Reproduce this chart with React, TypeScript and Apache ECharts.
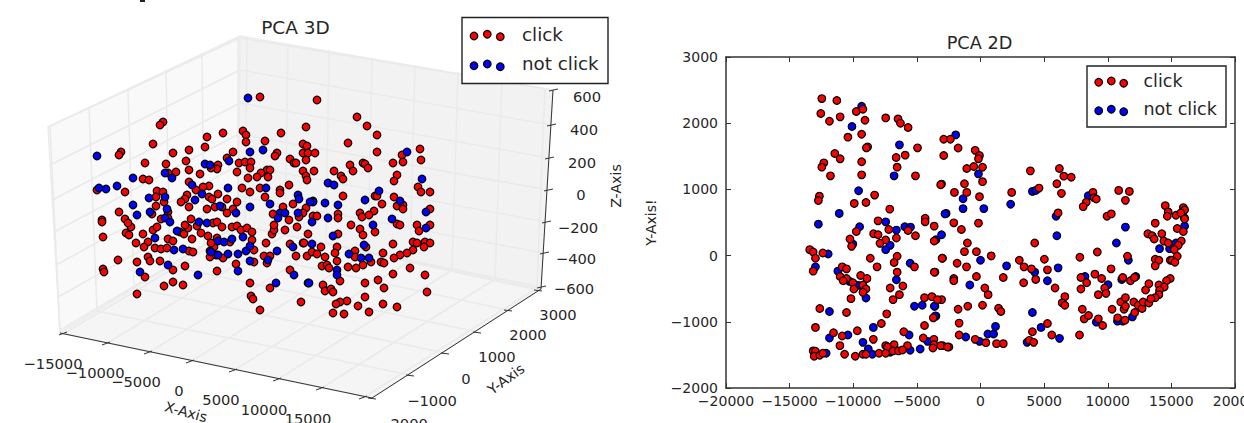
import React, { useEffect, useRef } from "react";
import * as echarts from "echarts";

type P = number[];
const FONT = '"DejaVu Sans"';
const INK = "#262626";

/* ---------- PCA 3D: screen projection of the points ---------- */
const clickProjected: P[] = [
[260,97],[163,122],[160,125],[223,133],[207,137],[243,131],[246,135],[281,133],[306,127],[265,141],[246,142],[153,144],[205,147],[303,144],[307,146],[121,152],[119,155],[189,150],[173,153],[233,152],[277,153],[275,156],[303,153],[308,153],[315,153],[290,159],[227,158],[186,161],[306,160],[145,163],[166,164],[239,163],[245,162],[251,162],[250,168],[294,163],[296,163],[218,165],[217,169],[211,168],[314,171],[189,170],[303,171],[237,172],[168,173],[176,172],[200,174],[267,170],[270,170],[261,173],[257,177],[268,177],[248,178],[306,176],[307,180],[143,179],[149,180],[189,182],[209,186],[203,187],[289,185],[242,188],[260,188],[250,192],[125,192],[97,190],[280,190],[280,193],[157,191],[163,192],[156,197],[196,190],[187,195],[209,197],[212,199],[218,194],[164,202],[185,199],[181,202],[265,197],[227,199],[237,202],[293,204],[156,206],[189,207],[207,209],[215,207],[222,207],[233,209],[283,207],[306,208],[119,212],[168,212],[152,214],[227,213],[273,214],[303,213],[299,217],[313,216],[125,219],[102,220],
[102,222],[131,227],[128,223],[103,237],[126,233],[129,235],[143,234],[153,230],[157,227],[161,219],[168,218],[148,242],[136,243],[144,247],[155,248],[161,249],[167,248],[168,239],[173,241],[180,232],[184,234],[188,228],[191,219],[185,225],[197,226],[192,239],[201,233],[208,236],[213,223],[217,222],[222,227],[232,227],[237,226],[241,230],[247,228],[252,232],[252,240],[217,238],[230,242],[214,247],[211,243],[210,251],[189,251],[193,252],[210,257],[216,255],[223,258],[254,250],[266,243],[148,257],[150,261],[137,262],[118,260],[160,261],[185,266],[173,270],[236,264],[217,271],[254,262],[264,256],[270,256],[267,263],[103,269],[104,272],[145,277],[173,282],[164,286],[183,285],[137,294],[250,283],[270,288],[251,296],[253,299],[260,310],[301,302],[290,270],[308,234],[303,243],[290,244],[296,256],[307,256],[312,252],[317,254],[272,234],[274,230],[285,230],[274,225],[289,220],[297,227],
[317,100],[357,117],[367,126],[377,135],[348,143],[377,152],[420,149],[402,155],[421,160],[393,163],[403,162],[350,165],[363,163],[365,164],[368,168],[353,171],[334,171],[341,176],[343,179],[397,175],[394,181],[418,187],[421,192],[430,192],[343,196],[375,196],[377,196],[394,197],[382,204],[397,206],[403,205],[403,209],[430,209],[374,211],[360,213],[369,215],[338,214],[317,216],[362,217],[338,218],
[351,225],[397,224],[400,225],[417,225],[360,229],[375,232],[419,231],[430,225],[363,235],[338,234],[304,243],[321,247],[337,247],[366,247],[393,244],[413,242],[417,243],[425,242],[430,243],[424,247],[413,250],[407,253],[400,255],[383,253],[394,258],[335,253],[325,257],[337,261],[355,251],[355,257],[363,265],[371,262],[381,262],[384,263],[322,266],[327,265],[329,268],[348,267],[356,268],[410,268],[393,274],[425,275],[340,281],[365,283],[378,280],[384,288],[323,285],[325,291],[331,289],[333,292],[427,292],[365,297],[347,301],[340,302],[336,304],[358,306],[383,304],[397,307],[333,313],[344,314],[369,312]
];
const notClickProjected: P[] = [
[248,98],[97,156],[263,150],[250,152],[229,161],[205,164],[210,165],[133,178],[172,178],[165,173],[117,186],[99,188],[106,189],[228,188],[266,188],[192,185],[202,194],[149,198],[165,197],[195,200],[298,195],[299,199],[313,201],[133,205],[270,204],[220,206],[250,207],[137,215],[150,212],[167,209],[280,213],[285,213],[298,213],[236,213],[165,218],[278,218],
[170,222],[177,231],[155,238],[174,250],[183,249],[168,265],[140,272],[198,275],[199,222],[207,223],[218,241],[224,242],[232,239],[243,237],[211,252],[218,255],[228,254],[238,254],[246,251],[250,246],[250,261],[268,260],[277,251],[238,271],[312,222],[293,247],[312,244],[294,275],[276,283],[308,283],
[407,152],[422,179],[328,183],[334,185],[379,191],[365,200],[313,202],[310,202],[325,203],[338,205],[400,201],[426,212],[328,218],[392,219],
[373,225],[333,236],[364,245],[426,228],[349,254],[361,258],[369,258],[337,270],[337,275],[309,283]
];

/* ---------- PCA 2D ---------- */
const click2D: P[] = [
[-12470,2372],[-11290,2342],[-12550,2146],[-11870,2030],[-11030,2096],[-9760,2176],[-9240,2211],[-9080,2045],[-7450,2080],[-6480,2065],[-6290,2000],[-5690,1935],[-10420,1789],[-9340,1834],[-8870,1643],[-8970,1628],[-4950,1628],[-11450,1542],[-11030,1462],[-9340,1417],[-12310,1401],[-12470,1336],[-6630,1482],[-5920,1517],[-6550,1336],[-11790,1205],[-9340,1220],[-5110,1205],[-3060,1080],[-12660,898],[-12740,833],[-9920,788],[-9000,803],[-8320,914],[-7130,702],[-8050,525],[-4350,565],[-4350,510],
[-7210,395],[-5690,380],[-9760,365],[-5110,300],[-3640,445],[-3640,220],[-10260,250],[-8400,330],[-8050,315],[-6610,265],[-7450,235],[-7900,185],[-10130,140],[-13420,90],[-13150,55],[-12390,40],[-12970,-40],[-8660,-40],[-6550,-10],[-6790,-105],[-2980,-40],[-8130,-170],[-5190,-170],[-13150,-235],[-10870,-170],[-10530,-200],[-6550,-250],[-3580,-250],[-9420,-300],[-11030,-315],[-10530,-345],[-10790,-380],[-10030,-410],[-8920,-345],[-9240,-445],[-9000,-505],[-9950,-505],[-9240,-555],[-6100,-460],[-7100,-490],[-6370,-590],[-6870,-665],[-10180,-650],[-4400,-635],[-3820,-620],[-3060,-665],[-12630,-800],[-10530,-860],[-7370,-880],[-3710,-940],[-7790,-1025],[-4400,-1055],[-12970,-1085],[-9680,-1135],[-11550,-1165],[-6030,-1150],[-10870,-1215],[-8420,-1265],[-4500,-1245],[-3660,-1265],[-11050,-1360],[-5740,-1360],[-6790,-1345],[-7450,-1360],[-7310,-1380],[-3660,-1345],[-3740,-1395],[-2980,-1360],[-2480,-1380],[-13150,-1440],[-12970,-1445],[-13070,-1520],[-12630,-1505],[-12390,-1475],[-10680,-1490],[-9840,-1520],[-9240,-1490],[-9000,-1490],[-7970,-1475],[-7450,-1475],[-6870,-1440],[-6450,-1440],[-6130,-1425],
[-2890,1757],[-2370,1757],[-1760,1625],[-420,1590],[-2890,1513],[-80,1513],[-160,1462],[-1080,1315],[-530,1345],[160,1335],[160,1117],[-3130,1070],[-1260,1085],[-2050,955],[-1080,955],[-80,890],[2450,955],[3920,1280],[6200,1315],[6550,1200],[7130,1183],[6000,1085],[4600,1020],[6360,940],[8840,955],[8920,875],[9100,855],[8310,805],[8070,740],[10860,985],[11700,970],[11390,835],[9940,595],[10280,630],[6100,645],[14520,755],[15940,725],[14750,660],[16040,690],[15360,610],[14680,595],[16020,570],[15750,645],
[-2100,495],[-160,490],[-1500,395],[-1030,190],[-1260,60],[-320,60],[840,-5],[-3020,-40],[-1840,-115],[-1100,-170],[-3630,-250],[-320,-315],[-2100,-345],[-2100,-380],[1790,-330],[340,-490],[600,-590],[-3390,-665],[-1000,-765],[160,-750],[-1760,-810],[1420,-795],[1600,-845],[-1680,-1020],[-1680,-1200],[-420,-1265],[420,-1315],[1260,-1330],[1790,-1330],[-3130,-1360],[-2600,-1380],[4260,190],[3050,-70],[3420,-170],[4000,-200],[3390,-410],[4340,-360],[5020,-55],[5260,-215],[5860,-490],[6630,-620],[6420,-715],[6630,-750],[5260,-1025],[4080,-1150],[5600,-1200],[3840,-1280],[4180,-1310],[7780,-1200],[7810,-25],[9180,55],[10260,-200],[7890,-330],[8340,-410],[7890,-505],[8990,-280],[9520,-345],[9760,-490],[9860,-570],[9260,-590],[8000,-810],[8150,-955],[8490,-905],[9260,-955],[9600,-1055],[10340,-810],[10780,-940],[11360,-975],[11020,-700],[11390,-635],[11280,-810],[11390,-765],[12120,-860],[12050,-700],[12390,-750],[12700,-800],[12780,-700],[13230,-715],[12970,-520],[13230,-425],[11780,-380],[12100,-330],[11180,-330],[11550,-10],[13730,490],[13150,330],[13490,300],[13650,250],[14250,330],[14410,220],[14750,190],[15780,220],[15540,155],[15230,90],[15460,-10],[13730,-55],[14020,-70],[14910,-70],[15040,-70],[13730,-155],[15280,-100],[14910,-345],[14620,-380],[14020,-445],[14440,-475],[14070,-525],[14020,-590],[13730,-635],[13390,-650],[15460,410],[15940,365],[16040,555]
];
const notClick2D: P[] = [
[-9340,2256],[-10100,1950],[-6370,1673],[-6790,1205],[-9580,980],[-11100,637],[-2700,637],[-7450,510],[-12740,475],[-9500,435],[-6610,385],[-5950,435],[-5500,430],[-3060,315],[-3500,240],[-10030,175],[-7100,155],[-7450,90],[-11970,25],[-12970,-170],[-11210,-235],[-10290,-390],[-9600,-450],[-5530,-115],[-6610,-365],[-9000,-640],[-5190,-765],[-4580,-750],[-3580,-765],[-3500,-915],[-11870,-845],[-8420,-1085],[-10420,-1200],[-11870,-1245],[-9240,-1310],[-8820,-1410],[-8500,-1490],[-12130,-1475],[-5610,-1200],[-5530,-1430],[-4740,-1410],[-4160,-1295],[-7100,-1460],
[-1950,1823],[-160,1234],[-1370,858],[-1370,710],[260,710],[-2790,630],[2370,775],[4080,970],[4340,985],[8470,905],[5940,595],
[0,-70],[2050,-155],[-840,-445],[4260,-250],[5260,-380],[6100,-185],[6000,300],[10680,190],[11390,430],[11620,-70],[14070,105],[14860,105],[15360,190],[16040,445],[8210,-315],[10020,-440],[11100,-360],[12200,-315],[-3630,-765],[-3550,-910],[4080,-860],[1180,-1070],[580,-1185],[1030,-1185],[-1160,-1230],[-80,-1295],[4760,-1085],[6210,-1250],[3660,-1310],[9100,-1005],[10760,-990],[11180,-990],[11940,-925]
];

const xLabels3D = ["\u221215000", "\u221210000", "\u22125000", "0", "5000", "10000", "15000", "20000"];
const yLabels3D = ["\u22122000", "\u22121000", "0", "1000", "2000", "3000"];
const zLabels3D = ["600", "400", "200", "0", "\u2212200", "\u2212400", "\u2212600"];

/* ---------- 3D box drawing, in picture units ---------- */
const CORNER = {
  leftTop: [48, 127], backTop: [240, 36], rightTop: [553, 90],
  leftBottom: [60, 333], backBottom: [238, 225], rightBottom: [541, 289], frontBottom: [372, 398],
};
const xTickFront = [[63,334],[106,344],[148,353],[190,362],[233,371],[277,380],[320,389],[363,398]];
const xBackTop = [[247,38],[288,45],[329,50],[372,58],[415,65],[458,72],[502,80],[545,88]];
const xBackBottom = [[245,226],[285,235],[326,244],[368,252],[410,261],[452,270],[495,279],[537,288]];
const yLeftTop = [[50,127],[89,108],[128,90],[166,72],[202,55],[238,38]];
const yLeftBottom = [[60,333],[97,311],[134,288],[170,266],[204,245],[238,225]];
const yTickFront = [[372,398],[410,375],[445,353],[477,332],[508,310],[538,290]];
const zLeft = [[48,127],[50,165],[52,200],[54,232],[56,265],[58,297],[60,330]];
const zBack = [[240,38],[240,70],[240,103],[239,134],[239,165],[238,196],[238,225]];
const zRight = [[553,90],[551,125],[549,158],[548,190],[546,222],[544,253],[541,287]];
const xLabelPos = [[53,363],[95,372],[136,381],[179,390],[221,399],[264,409],[308,418],[352,429]];
const yLabelPos = [[403,423],[432,400],[466,378],[497,356],[528,334],[558,314]];
const zLabelPos = [[587,96],[584,129],[582,162],[581,194],[578,227],[576,258],[574,288]];

const line = (a: P, b: P, stroke: string, lineWidth: number, z = 1) => ({
  type: "line", silent: true, z,
  shape: { x1: a[0], y1: a[1], x2: b[0], y2: b[1] },
  style: { stroke, lineWidth },
});
const poly = (pts: P[], fill: string) => ({
  type: "polygon", silent: true, z: 0, shape: { points: pts }, style: { fill, stroke: "#ececec", lineWidth: 1.5 },
});
const text = (t: string, x: number, y: number, size: number, rotation = 0, z = 5, align = "center") => ({
  type: "text", silent: true, z, x, y, rotation,
  style: { text: t, font: `${size}px ${FONT}`, fill: INK, align, verticalAlign: "middle" },
});
const dot = (x: number, y: number, fill: string) => ({
  type: "circle", silent: true, z: 101, shape: { cx: x, cy: y, r: 3.8 },
  style: { fill, stroke: "#000", lineWidth: 1.2 },
});

function box3D() {
  const G = "#eaeaea";
  const c = CORNER;
  const out: any[] = [
    poly([c.leftTop, c.backTop, c.backBottom, c.leftBottom], "#f9f9f9"),
    poly([c.backTop, c.rightTop, c.rightBottom, c.backBottom], "#f2f2f2"),
    poly([c.leftBottom, c.backBottom, c.rightBottom, c.frontBottom], "#f5f5f5"),
  ];
  xBackTop.forEach((p, i) => {
    out.push(line(p, xBackBottom[i], G, 1.5));
    out.push(line(xBackBottom[i], xTickFront[i], G, 1.5));
    out.push(line([xTickFront[i][0] - 4, xTickFront[i][1] + 1], [xTickFront[i][0] + 4, xTickFront[i][1] - 2], "#333", 1, 3));
    out.push(text(xLabels3D[i], xLabelPos[i][0], xLabelPos[i][1], 14.7));
  });
  yLeftTop.forEach((p, i) => {
    out.push(line(p, yLeftBottom[i], G, 1.5));
    out.push(line(yLeftBottom[i], yTickFront[i], G, 1.5));
    out.push(line([yTickFront[i][0] - 4, yTickFront[i][1]], [yTickFront[i][0] + 4, yTickFront[i][1] + 1], "#333", 1, 3));
    out.push(text(yLabels3D[i], yLabelPos[i][0], yLabelPos[i][1], 14.7));
  });
  zBack.forEach((p, i) => {
    out.push(line(zLeft[i], p, G, 1.5));
    out.push(line(p, zRight[i], G, 1.5));
    out.push(line([zRight[i][0] - 4, zRight[i][1] + 1], [zRight[i][0] + 5, zRight[i][1] - 1], "#333", 1, 3));
    out.push(text(zLabels3D[i], zLabelPos[i][0], zLabelPos[i][1], 14.7));
  });
  out.push(line(c.leftBottom, c.frontBottom, "#333", 1, 3));
  out.push(line(c.frontBottom, c.rightBottom, "#333", 1, 3));
  out.push(line(c.rightTop, c.rightBottom, "#333", 1, 3));
  out.push(text("X-Axis", 186, 412, 14.2, -0.27));
  out.push(text("Y-Axis", 506, 379, 14.2, 0.63));
  out.push(text("Z-Axis", 616, 186, 14.2, Math.PI / 2));
  out.push({ type: "rect", silent: true, z: 5, shape: { x: 140, y: 0, width: 5, height: 2 }, style: { fill: "#222" } });
  return out;
}

function legendBox(x: number, y: number, w: number, h: number, dotX: P, dotY1: P, dotY2: P, textX: number, textY: P, size: number) {
  return [
    { type: "rect", silent: true, z: 100, shape: { x, y, width: w, height: h }, style: { fill: "#fff", stroke: "#222", lineWidth: 1.4 } },
    ...dotX.map((dx, i) => dot(dx, dotY1[i], "#ff0000")),
    ...dotX.map((dx, i) => dot(dx, dotY2[i], "#0000ff")),
    text("click", textX, textY[0], size, 0, 101, "left"),
    text("not click", textX, textY[1], size, 0, 101, "left"),
  ];
}

const scatter = (name: string, data: P[], color: string, axis: number) => ({
  type: "scatter", name, data, xAxisIndex: axis, yAxisIndex: axis, symbol: "circle", symbolSize: 7.6,
  itemStyle: { color, borderColor: "#000", borderWidth: 1.2, opacity: 1 },
  silent: true, clip: false,
});
const minusFmt = (v: number) => String(v).replace("-", "\u2212");
const frameLine = { show: true, onZero: false, lineStyle: { color: "#333", width: 1.5 } };
const frameTick = { show: true, inside: true, length: 5, lineStyle: { color: "#333", width: 1 } };
const tickText = { show: true, fontFamily: FONT, fontSize: 14, color: INK, formatter: minusFmt };
const X2 = { type: "value", gridIndex: 1, min: -20000, max: 20000, interval: 5000, splitLine: { show: false }, axisLine: frameLine, axisTick: frameTick };
const Y2 = { type: "value", gridIndex: 1, min: -2000, max: 3000, interval: 1000, splitLine: { show: false }, axisLine: frameLine, axisTick: frameTick };

export default function App() {
  const ref = useRef<HTMLDivElement>(null);
  useEffect(() => {
    document.body.style.margin = "0";
    const chart = echarts.init(ref.current!, undefined, { renderer: "svg" });
    chart.setOption({
      animation: false,
      backgroundColor: "#fff",
      title: [
        { text: "PCA 3D", left: 290.5, top: 13, textAlign: "center", textStyle: { fontFamily: FONT, fontSize: 18.5, fontWeight: "normal", color: INK } },
        { text: "PCA 2D", left: 974.5, top: 29, textAlign: "center", textStyle: { fontFamily: FONT, fontSize: 17.7, fontWeight: "normal", color: INK } },
      ],
      grid: [
        { left: 0, top: 0, width: 620, height: 423, outerBoundsMode: "none" },
        { left: 726, top: 57, width: 509, height: 331, outerBoundsMode: "none" },
      ],
      xAxis: [
        { type: "value", gridIndex: 0, min: 0, max: 620, show: false },
        { ...X2, position: "bottom", axisLabel: { ...tickText, margin: 6 }, name: "X-Axis", nameLocation: "middle", nameGap: 36, nameTextStyle: { fontFamily: FONT, fontSize: 14, color: INK } },
        { ...X2, position: "top", axisLabel: { show: false } },
      ],
      yAxis: [
        { type: "value", gridIndex: 0, min: 0, max: 423, inverse: true, show: false },
        { ...Y2, position: "left", axisLabel: { ...tickText, margin: 8 }, name: "Y-Axis!", nameLocation: "middle", nameGap: 68, nameTextStyle: { fontFamily: FONT, fontSize: 14, color: INK } },
        { ...Y2, position: "right", axisLabel: { show: false } },
      ],
      series: [
        scatter("click", clickProjected, "#ff0000", 0),
        scatter("not click", notClickProjected, "#0000ff", 0),
        scatter("not click", notClick2D, "#0000ff", 1),
        scatter("click", click2D, "#ff0000", 1),
      ],
      graphic: { elements: [
        ...box3D(),
        ...legendBox(462, 17.5, 146, 66, [474, 487.3, 500.3], [36, 34.3, 36.7], [65.7, 64, 66.7], 522, [34, 63.3], 18.3),
        ...legendBox(1087, 66, 139, 61, [1098.7, 1111.3, 1123.7], [82.3, 81, 83.3], [110.7, 109.3, 111.7], 1143.5, [81, 108.5], 17.5),
      ] },
    });
    return () => chart.dispose();
  }, []);
  return <div ref={ref} style={{ position: "absolute", left: 0, top: 0, width: 1244, height: 423 }} />;
}
